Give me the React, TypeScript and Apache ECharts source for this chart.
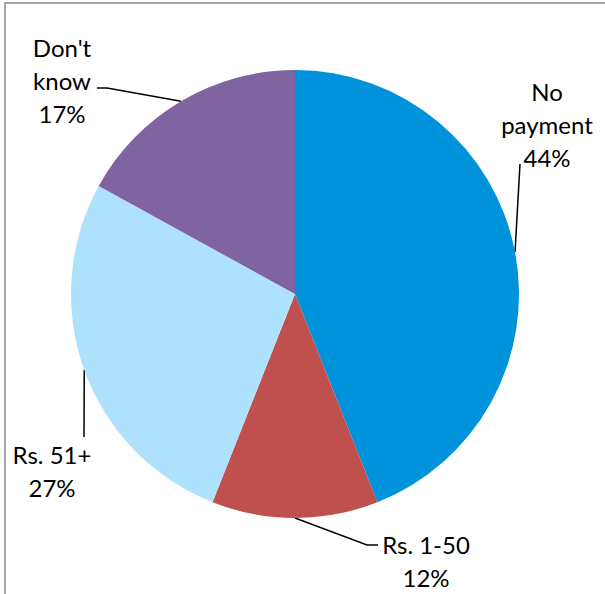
import React, { useEffect, useRef } from "react";
import * as echarts from "echarts";

const categories = ["No payment", "Rs. 1-50", "Rs. 51+", "Don't know"];
const shares = [44, 12, 27, 17];
const labelTexts = ["No\npayment\n44%", "Rs. 1-50\n12%", "Rs. 51+\n27%", "Don't\nknow\n17%"];
const colors = ["#0092DA", "#C0504D", "#AEE1FC", "#8064A2"];

const W = 605;
const H = 594;
const CX = 295;
const CY = 294;
const R = 224;

// label box centres and leader-line bend/end points, as offsets from the pie centre
const labelCentres: [number, number][] = [
  [252, -170],
  [131, 267],
  [-243, 177],
  [-233, -214],
];
const lineBends: [number, number][][] = [
  [[225, -130], [225, -130]],
  [[72, 251], [83, 251]],
  [[-211, 143], [-211, 143]],
  [[-188, -206], [-198, -206]],
];

export default function App() {
  const ref = useRef<HTMLDivElement>(null);
  useEffect(() => {
    if (!ref.current) return;
    const chart = echarts.init(ref.current, undefined, { renderer: "svg" });
    const total = shares.reduce((a, b) => a + b, 0);
    const midAngles: number[] = [];
    let acc = 0;
    shares.forEach((v) => {
      midAngles.push(((acc + v / 2) / total) * Math.PI * 2);
      acc += v;
    });
    chart.setOption({
      animation: false,
      backgroundColor: "#ffffff",
      graphic: [
        {
          type: "polyline",
          shape: { points: [[5, H + 5], [5, 3], [W + 5, 3]] },
          style: { stroke: "#A6A6A6", lineWidth: 2, fill: "none" },
          silent: true,
        },
      ],
      series: [
        {
          type: "pie",
          center: [CX, CY],
          radius: R,
          startAngle: 90,
          clockwise: true,
          avoidLabelOverlap: false,
          data: categories.map((c, i) => ({
            name: c,
            value: shares[i],
            itemStyle: { color: colors[i] },
          })),
          label: {
            show: true,
            formatter: (p: any) => labelTexts[p.dataIndex],
            color: "#000000",
            fontFamily: "Lato",
            fontSize: 24,
            lineHeight: 33,
            align: "center",
          },
          labelLine: {
            show: true,
            smooth: false,
            lineStyle: { color: "#000000", width: 1.5 },
          },
          labelLayout: (p: any) => {
            const i = p.dataIndex;
            const a = midAngles[i];
            const start = [CX + R * Math.sin(a), CY - R * Math.cos(a)];
            const b = lineBends[i];
            return {
              x: CX + labelCentres[i][0],
              y: CY + labelCentres[i][1],
              align: "center",
              verticalAlign: "middle",
              labelLinePoints: [
                start,
                [CX + b[0][0], CY + b[0][1]],
                [CX + b[1][0], CY + b[1][1]],
              ],
            };
          },
        },
      ],
    });
    return () => chart.dispose();
  }, []);
  return (
    <div
      ref={ref}
      style={{ position: "fixed", left: 0, top: 0, width: W, height: H, background: "#fff" }}
    />
  );
}
